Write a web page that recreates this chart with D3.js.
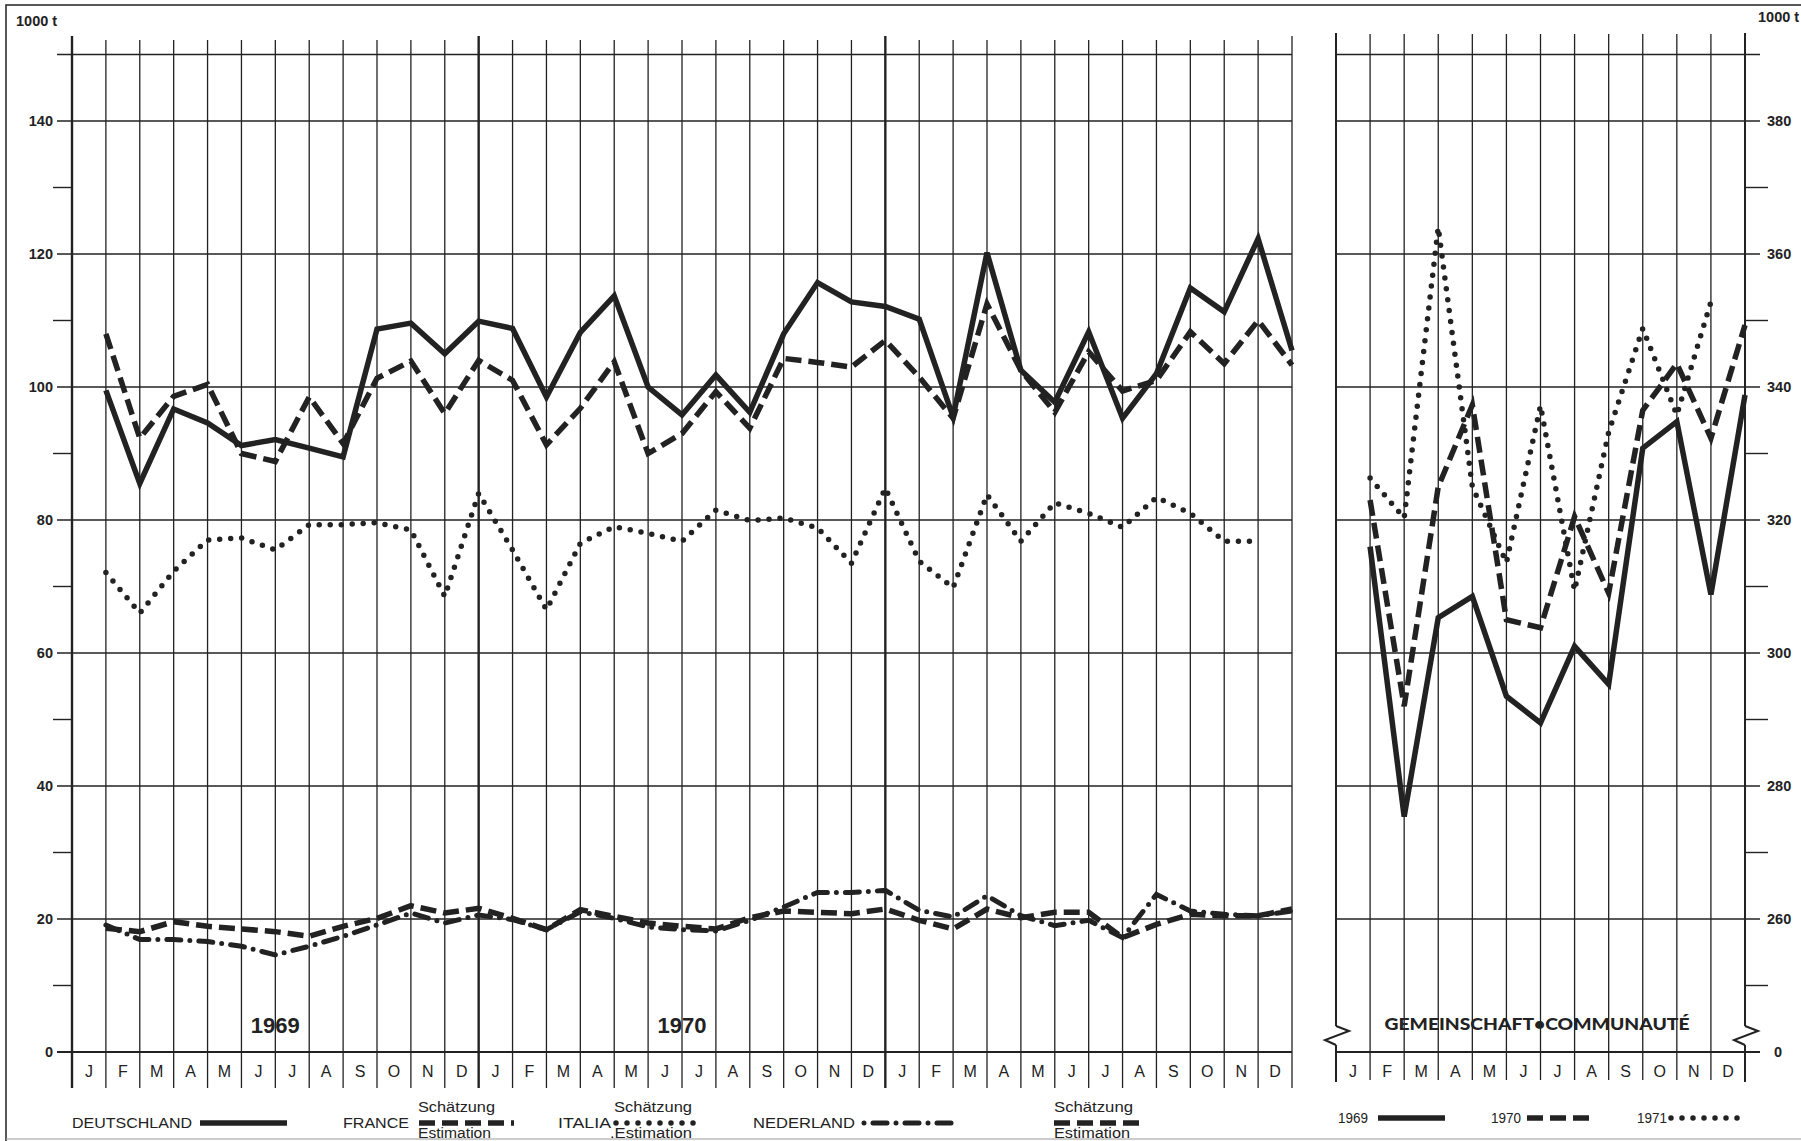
<!DOCTYPE html>
<html><head><meta charset="utf-8">
<script src="https://cdn.jsdelivr.net/npm/d3@7"></script>
<style>body{margin:0;background:#fff}svg{display:block}</style>
</head><body>
<script>
// ---------- data ----------
const months = ["J","F","M","A","M","J","J","A","S","O","N","D"];
const yearLabels = ["1969","1970"];
const leftTicks = [0,20,40,60,80,100,120,140];
const leftMinor = [10,30,50,70,90,110,130];
const rightTicks = [260,280,300,320,340,360,380];
const rightMinor = [250,270,290,310,330,350,370];

// left panel, monthly Jan 1969 .. Dec 1971 (1000 t)
const deutschland = [99.5,85.5,96.7,94.6,91.2,92.1,90.8,89.5,108.7,109.6,105,109.9,
                     108.8,98.5,108.2,113.7,100,95.8,101.8,96.2,108,115.7,112.8,112.1,
                     110.2,95.5,120.2,102.5,97.7,108.3,95.3,102,114.9,111.3,122.3,105.5];
const france      = [108,92.3,98.6,100.4,90,88.8,98.5,91.5,101.3,103.9,96,104,
                     101,91.3,96.8,103.8,90,93,99.3,93.8,104.3,103.7,103,107,
                     101.5,95.3,112.5,102.5,96.2,105.3,99.4,101,108.3,103.5,110,103.3];
const italia      = [72.1,66,72.3,77,77.3,75.5,79.3,79.3,79.6,78.5,68.5,84,
                     75.5,66.5,76.5,79,78,76.8,81.5,79.9,80.3,78.8,73.5,84.8,
                     73.8,69.8,83.8,76.8,82.6,81,78.9,83.4,81,76.8,76.8,null];
const nederland   = [19.1,16.9,16.9,16.6,15.9,14.6,15.9,17.4,19.1,20.9,19.4,20.6,
                     19.9,18.4,21.1,20.1,18.8,18.4,18.2,19.8,21.8,24,24,24.3,
                     21.3,20.3,23.5,20.5,19,19.8,17.2,23.7,21.2,20.7,20.5,21.2];
const estimation  = [18.6,18.1,19.6,18.9,18.5,18.1,17.4,18.9,20.1,22,20.9,21.6,
                     20.1,18.4,21.4,20.4,19.4,18.9,18.5,20.2,21.2,21,20.8,21.5,
                     19.8,18.5,21.5,20.2,21,21,17.2,19.2,20.7,20.5,20.5,21.5];
// right panel, Gemeinschaft / Communauté (1000 t)
const g1969 = [316,275.4,305.3,308.5,293.5,289.5,301,295.3,330.8,334.8,308.8,338.8];
const g1970 = [323,292,325,337.3,305,303.8,320.5,309,336.5,343.5,332.3,349.3];
const g1971 = [326.3,320.3,364,325,313.6,337.2,309.4,333.2,348.8,335.8,352.8,null];

// ---------- setup ----------
const W = 1801, H = 1141, INK = "#222";
const svg = d3.select("body").append("svg").attr("width", W).attr("height", H);
svg.append("rect").attr("width", W).attr("height", H).attr("fill", "#fff");

const x  = d3.scaleLinear().domain([0,36]).range([72,1292]);
const y  = d3.scaleLinear().domain([0,150]).range([1052,54.5]);
const xR = d3.scaleLinear().domain([0,12]).range([1336,1745]);
const yR = d3.scaleLinear().domain([240,390]).range([1052,54.5]);

const numFont = "'Liberation Sans', Arial, sans-serif";
const narrow = "'Liberation Sans Narrow', 'Liberation Sans', Arial, sans-serif";

// frame
svg.append("path").attr("d","M6,1141 L6,5 L1801,5").attr("fill","none").attr("stroke",INK).attr("stroke-width",1.5);
svg.append("line").attr("x1",6).attr("x2",1801).attr("y1",1139).attr("y2",1139).attr("stroke","#999").attr("stroke-width",1);

// ---------- left panel grid ----------
const gL = svg.append("g");
gL.selectAll("line.h").data(leftTicks.concat([150])).join("line")
  .attr("x1",57).attr("x2",x(36)).attr("y1",d=>y(d)).attr("y2",d=>y(d))
  .attr("stroke",INK).attr("stroke-width",d=>d===0?2:1.4);
gL.selectAll("line.m").data(leftMinor).join("line")
  .attr("x1",53).attr("x2",x(0)).attr("y1",d=>y(d)).attr("y2",d=>y(d))
  .attr("stroke",INK).attr("stroke-width",1.4);
gL.selectAll("line.v").data(d3.range(0,37)).join("line")
  .attr("x1",d=>x(d)).attr("x2",d=>x(d)).attr("y1",d=>(d%12===0)?36:40).attr("y2",1088)
  .attr("stroke",INK).attr("stroke-width",d=>(d===12||d===24||d===0)?2.4:1.3);
gL.selectAll("text.yl").data(leftTicks).join("text")
  .attr("x",53).attr("y",d=>y(d)+5).attr("text-anchor","end")
  .attr("font-family",numFont).attr("font-weight","bold").attr("font-size",14.5).attr("fill",INK)
  .text(d=>d);
gL.append("text").attr("x",16).attr("y",26).attr("font-family",numFont).attr("font-weight","bold")
  .attr("font-size",14.5).attr("fill",INK).text("1000 t");
gL.selectAll("text.ml").data(d3.range(36)).join("text")
  .attr("x",d=>x(d+0.5)).attr("y",1077).attr("text-anchor","middle")
  .attr("font-family",narrow).attr("font-size",16).attr("fill",INK)
  .text(d=>months[d%12]);
gL.selectAll("text.yr").data(yearLabels).join("text")
  .attr("x",(d,i)=>x(i*12+6)).attr("y",1033).attr("text-anchor","middle")
  .attr("font-family",narrow).attr("font-weight","bold").attr("font-size",22).attr("fill",INK)
  .text(d=>d);

// ---------- right panel grid ----------
const gR = svg.append("g");
gR.selectAll("line.h").data(rightTicks.concat([390])).join("line")
  .attr("x1",xR(0)).attr("x2",1760).attr("y1",d=>yR(d)).attr("y2",d=>yR(d))
  .attr("stroke",INK).attr("stroke-width",1.4);
gR.append("line").attr("x1",xR(0)).attr("x2",1760).attr("y1",y(0)).attr("y2",y(0))
  .attr("stroke",INK).attr("stroke-width",2);
gR.selectAll("line.m").data(rightMinor).join("line")
  .attr("x1",xR(12)).attr("x2",1768).attr("y1",d=>yR(d)).attr("y2",d=>yR(d))
  .attr("stroke",INK).attr("stroke-width",1.4);
gR.selectAll("line.v").data(d3.range(1,12)).join("line")
  .attr("x1",d=>xR(d)).attr("x2",d=>xR(d)).attr("y1",34).attr("y2",1080)
  .attr("stroke",INK).attr("stroke-width",1.3);
// axes with break marks
[0,12].forEach(k=>{
  const xx = xR(k);
  gR.append("line").attr("x1",xx).attr("x2",xx).attr("y1",33).attr("y2",1026)
    .attr("stroke",INK).attr("stroke-width",2);
  gR.append("line").attr("x1",xx).attr("x2",xx).attr("y1",1045).attr("y2",1082)
    .attr("stroke",INK).attr("stroke-width",2);
  gR.append("path").attr("d",`M${xx},1026 L${xx+13},1031 L${xx-11},1040 L${xx},1045`)
    .attr("fill","none").attr("stroke",INK).attr("stroke-width",2);
});
gR.selectAll("text.yl").data(rightTicks).join("text")
  .attr("x",1767).attr("y",d=>yR(d)+5)
  .attr("font-family",numFont).attr("font-weight","bold").attr("font-size",14.5).attr("fill",INK)
  .text(d=>d);
gR.append("text").attr("x",1774).attr("y",y(0)+5)
  .attr("font-family",numFont).attr("font-weight","bold").attr("font-size",14.5).attr("fill",INK).text("0");
gR.append("text").attr("x",1758).attr("y",22).attr("font-family",numFont).attr("font-weight","bold")
  .attr("font-size",14.5).attr("fill",INK).text("1000 t");
gR.selectAll("text.ml").data(d3.range(12)).join("text")
  .attr("x",d=>xR(d+0.5)).attr("y",1077).attr("text-anchor","middle")
  .attr("font-family",narrow).attr("font-size",16).attr("fill",INK)
  .text(d=>months[d]);
gR.append("text").attr("x",1537).attr("y",1030).attr("text-anchor","middle")
  .attr("font-family","Lato, 'Open Sans', sans-serif").attr("font-weight","900").attr("font-size",17)
  .attr("textLength",305).attr("lengthAdjust","spacingAndGlyphs").attr("fill",INK)
  .text("GEMEINSCHAFT•COMMUNAUTÉ");

// ---------- series ----------
const styles = {
  solid:  {dash:null, cap:"butt", w:5.5},
  dashed: {dash:"16 7", cap:"butt", w:5.5},
  dotted: {dash:"0 11", cap:"round", w:5.5},
  dashdot:{dash:"14 9 0 9", cap:"round", w:5}
};
function draw(g, data, xs, ys, st){
  const s = styles[st];
  const line = d3.line().defined(d=>d!=null).x((d,i)=>xs(i+1)).y(d=>ys(d));
  g.append("path").datum(data).attr("d",line).attr("fill","none")
    .attr("stroke",INK).attr("stroke-width",s.w).attr("stroke-linecap",s.cap)
    .attr("stroke-linejoin","miter").attr("stroke-miterlimit",4)
    .attr("stroke-dasharray",s.dash);
}
const gS = svg.append("g");
draw(gS, estimation, x, y, "dashed");
draw(gS, nederland, x, y, "dashdot");
draw(gS, italia, x, y, "dotted");
draw(gS, france, x, y, "dashed");
draw(gS, deutschland, x, y, "solid");
draw(gS, g1971, xR, yR, "dotted");
draw(gS, g1970, xR, yR, "dashed");
draw(gS, g1969, xR, yR, "solid");

// ---------- legend ----------
const gLg = svg.append("g").attr("font-family",narrow).attr("fill",INK);
function ltext(t, x0, yb, w, size){
  gLg.append("text").attr("x",x0).attr("y",yb).attr("font-size",size||15)
    .attr("textLength",w).attr("lengthAdjust","spacingAndGlyphs").text(t);
}
function lsample(x1, x2, yy, st){
  const s = styles[st];
  const ln = d3.line();
  gLg.append("path").attr("d",ln([[x1,yy],[x2,yy]])).attr("fill","none")
    .attr("stroke",INK).attr("stroke-width",s.w).attr("stroke-linecap",s.cap)
    .attr("stroke-dasharray",s.dash);
}
ltext("DEUTSCHLAND",72,1128,120);
lsample(200,287,1123,"solid");
ltext("FRANCE",343,1128,66);
ltext("Schätzung",418,1112,77,14);
lsample(419,514,1123,"dashed");
ltext("Estimation",418,1138,73,14);
ltext("ITALIA",558,1128,53);
ltext("Schätzung",614,1112,78,14);
lsample(616,697,1123,"dotted");
ltext(".Estimation",610,1138,82,14);
ltext("NEDERLAND",753,1128,102);
gLg.append("path").attr("d",d3.line()([[864,1123],[951,1123]])).attr("fill","none")
  .attr("stroke",INK).attr("stroke-width",5).attr("stroke-linecap","round")
  .attr("stroke-dasharray","0 9 14 9");
ltext("Schätzung",1054,1112,79,14);
lsample(1054,1141,1123,"dashed");
ltext("Estimation",1054,1138,76,14);
ltext("1969",1338,1123,30,14);
lsample(1378,1445,1118,"solid");
ltext("1970",1491,1123,30,14);
lsample(1527,1589,1118,"dashed");
ltext("1971",1637,1123,30,14);
lsample(1671,1748,1118,"dotted");
</script>
</body></html>
